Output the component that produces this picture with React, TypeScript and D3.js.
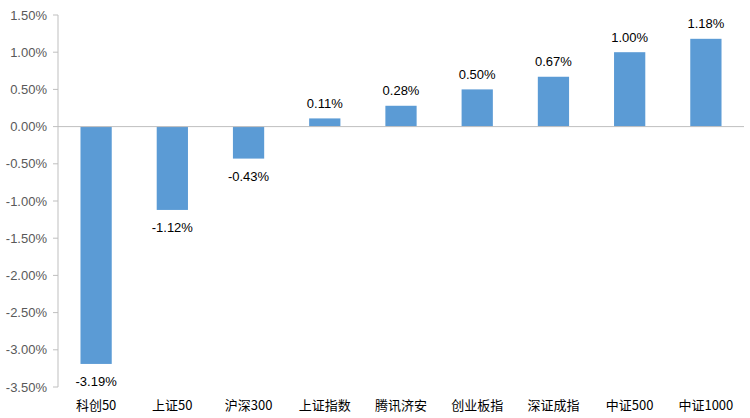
import React from "react";
import * as d3 from "d3";

const categories = ["科创50", "上证50", "沪深300", "上证指数", "腾讯济安", "创业板指", "深证成指", "中证500", "中证1000"];
const values = [-3.19, -1.12, -0.43, 0.11, 0.28, 0.5, 0.67, 1.0, 1.18];
const yTicks = [1.5, 1.0, 0.5, 0, -0.5, -1.0, -1.5, -2.0, -2.5, -3.0, -3.5];

export default function App() {
  const W = 750, H = 418;
  const left = 58, right = 744, top = 15, bottom = 387;
  const x = d3.scaleBand<string>().domain(categories).range([left, right]).paddingInner(0.59).paddingOuter(0.295);
  const y = d3.scaleLinear().domain([-3.5, 1.5]).range([bottom, top]);
  const font = "'Liberation Sans', Arial, sans-serif";
  return (
    <svg width={W} height={H} style={{ position: "absolute", left: 0, top: 0, background: "#fff" }}>
      {values.map((v, i) => {
        const c = categories[i];
        const y0 = y(0), y1 = y(v);
        return (
          <rect key={c} x={x(c)} y={Math.min(y0, y1)} width={x.bandwidth()} height={Math.abs(y1 - y0)} fill="#5B9BD5" />
        );
      })}
      <line x1={left} x2={right} y1={y(0)} y2={y(0)} stroke="#BFBFBF" strokeWidth={1} />
      <line x1={left} x2={left} y1={top} y2={bottom} stroke="#BFBFBF" strokeWidth={1} />
      {yTicks.map((t) => (
        <g key={t}>
          <line x1={left - 5} x2={left} y1={y(t)} y2={y(t)} stroke="#BFBFBF" />
          <text x={47} y={y(t)} dy="0.35em" textAnchor="end" fontFamily={font} fontSize={13} fill="#595959">
            {t.toFixed(2) + "%"}
          </text>
        </g>
      ))}
      {values.map((v, i) => {
        const c = categories[i];
        const cx = (x(c) as number) + x.bandwidth() / 2;
        const ly = v >= 0 ? y(v) - 15 : y(v) + 18;
        return (
          <text key={c} x={cx} y={ly} dy="0.35em" textAnchor="middle" fontFamily={font} fontSize={13} fill="#000">
            {v.toFixed(2) + "%"}
          </text>
        );
      })}
      {categories.map((c) => (
        <text key={c} x={(x(c) as number) + x.bandwidth() / 2} y={405} dy="0.35em" textAnchor="middle" fontFamily="'Noto Sans CJK SC', sans-serif" fontSize={13} fill="#000">
          {c}
        </text>
      ))}
    </svg>
  );
}
